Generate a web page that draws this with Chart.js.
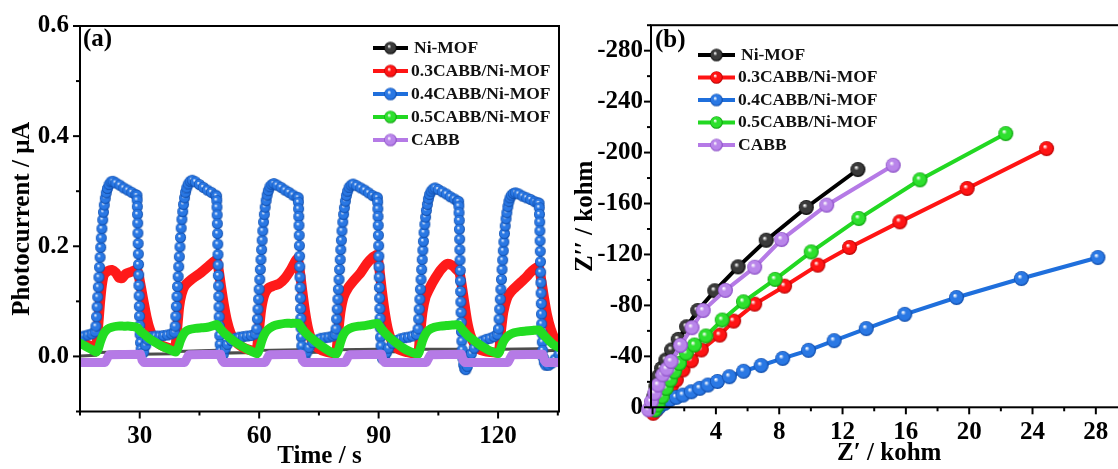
<!DOCTYPE html>
<html>
<head>
<meta charset="utf-8">
<title>Photocurrent and EIS</title>
<script src="https://cdn.jsdelivr.net/npm/chart.js@4.4.1/dist/chart.umd.min.js"></script>
<style>
html, body { margin: 0; padding: 0; background: #fff; overflow: hidden; width: 1118px; height: 469px; }
canvas { position: absolute; top: 0; }
</style>
</head>
<body>
<canvas id="chartA" width="572" height="469" style="left:0"></canvas>
<canvas id="chartB" width="572" height="469" style="left:570px"></canvas>
<script>
// ---- (a) photocurrent, [time s, current uA] ----
var niMOF_a = [[15,0.001],[19,0.002],[19.6,0.007],[29.3,0.009],[30,0.004],[38.9,0.005],[39.5,0.009],[49.3,0.011],[50,0.006],
  [59.4,0.007],[60,0.011],[69.8,0.012],[70.5,0.007],[79.3,0.008],[80,0.012],[89.7,0.013],[90.4,0.008],[99.9,0.009],[100.5,0.013],
  [110.1,0.013],[110.8,0.009],[120.1,0.01],[120.7,0.013],[130.3,0.014],[131,0.01],[135.3,0.011]];

var cabb3_a = [[15,0.025],[16.5,0.022],[18,0.018],[19,0.018],[19.5,0.05],[20,0.095],[20.5,0.13],[21,0.148],[22,0.155],[23,0.157],
  [24,0.152],[24.8,0.143],[25.6,0.142],[26.5,0.15],[28,0.154],[29.3,0.158],[29.8,0.145],[30.4,0.122],[31,0.098],[31.7,0.072],
  [32.5,0.05],[33.5,0.033],[35,0.022],[37,0.016],[38.8,0.014],
  [39.4,0.05],[39.9,0.09],[40.5,0.113],[41.3,0.128],[43,0.14],[45,0.15],[47,0.162],[49.2,0.175],[49.8,0.158],[50.4,0.128],
  [51.1,0.095],[51.9,0.065],[52.8,0.043],[54,0.027],[56,0.016],[58,0.011],[59.3,0.01],
  [59.9,0.045],[60.5,0.085],[61.3,0.112],[62.3,0.124],[63.5,0.128],[65,0.132],[66.5,0.142],[68,0.158],[69.6,0.178],[70.2,0.155],
  [70.8,0.12],[71.5,0.082],[72.3,0.05],[73.3,0.028],[74.8,0.015],[77,0.008],[79.2,0.006],
  [79.8,0.04],[80.4,0.08],[81.2,0.108],[82.3,0.124],[83.8,0.138],[85.5,0.152],[87,0.168],[88.5,0.18],[89.6,0.184],[90.2,0.158],
  [90.8,0.12],[91.5,0.082],[92.3,0.05],[93.3,0.028],[94.8,0.014],[97,0.008],[99.8,0.006],
  [100.4,0.04],[101,0.08],[101.8,0.108],[102.8,0.124],[104.2,0.142],[105.7,0.158],[107.2,0.168],[108.5,0.165],[109.5,0.158],
  [110.3,0.152],[110.9,0.128],[111.5,0.098],[112.2,0.065],[113,0.04],[114,0.023],[115.5,0.012],[118,0.008],[120.1,0.008],
  [120.7,0.045],[121.3,0.08],[122.2,0.105],[123.3,0.118],[125,0.13],[126.8,0.142],[128.5,0.155],[130.2,0.163],[130.8,0.14],
  [131.5,0.108],[132.3,0.075],[133.2,0.05],[134.2,0.032],[135.3,0.022]];

var cabb4_a = [[15,0.035],[16,0.037],[17,0.039],[18,0.041],[18.8,0.045],
  [19,0.055],[19.15,0.072],[19.3,0.09],[19.45,0.108],[19.6,0.126],[19.75,0.144],[19.9,0.162],[20.05,0.18],[20.2,0.198],[20.35,0.215],
  [20.5,0.232],[20.7,0.248],[20.9,0.262],[21.1,0.275],[21.35,0.287],[21.6,0.297],[21.9,0.305],[22.3,0.312],[22.8,0.317],[23.3,0.318],
  [24,0.315],[25,0.311],[26,0.306],[27,0.302],[28,0.298],[29,0.294],[29.3,0.292],
  [29.35,0.284],[29.4,0.272],[29.45,0.258],[29.5,0.242],[29.55,0.224],[29.6,0.205],[29.65,0.186],[29.7,0.167],[29.75,0.148],
  [29.8,0.129],[29.85,0.11],[29.9,0.091],[29.95,0.073],[30,0.056],[30.1,0.04],[30.2,0.025],[30.35,0.013],[30.6,0.005],
  [31,0.008],[31.5,0.02],[32,0.03],[33,0.036],[34,0.037],[35,0.037],[36,0.038],[37,0.039],[38,0.041],[38.7,0.044],
  [38.9,0.055],[39.05,0.073],[39.2,0.091],[39.35,0.109],[39.5,0.127],[39.65,0.145],[39.8,0.163],[39.95,0.181],[40.1,0.199],
  [40.25,0.216],[40.4,0.233],[40.6,0.249],[40.8,0.263],[41,0.276],[41.25,0.288],[41.5,0.298],[41.8,0.306],[42.2,0.313],[42.7,0.318],[43.2,0.32],
  [44,0.317],[45,0.312],[46,0.307],[47,0.302],[48,0.298],[49,0.293],[49.3,0.291],
  [49.35,0.283],[49.4,0.271],[49.45,0.257],[49.5,0.241],[49.55,0.223],[49.6,0.204],[49.65,0.185],[49.7,0.166],[49.75,0.147],
  [49.8,0.128],[49.85,0.109],[49.9,0.09],[49.95,0.072],[50,0.055],[50.1,0.038],[50.2,0.022],[50.35,0.01],[50.6,0.001],
  [51,0.004],[51.5,0.014],[52,0.022],[53,0.029],[54,0.033],[55,0.035],[56,0.036],[57,0.037],[58,0.038],[59,0.041],
  [59.4,0.05],[59.55,0.068],[59.7,0.086],[59.85,0.104],[60,0.122],[60.15,0.14],[60.3,0.158],[60.45,0.176],[60.6,0.194],
  [60.75,0.211],[60.9,0.228],[61.1,0.244],[61.3,0.258],[61.5,0.271],[61.75,0.283],[62,0.293],[62.3,0.301],[62.7,0.308],[63.2,0.312],[63.7,0.314],
  [64.5,0.311],[65.5,0.307],[66.5,0.302],[67.5,0.298],[68.5,0.293],[69.5,0.289],[69.8,0.288],
  [69.85,0.28],[69.9,0.268],[69.95,0.254],[70,0.238],[70.05,0.22],[70.1,0.201],[70.15,0.182],[70.2,0.163],[70.25,0.144],
  [70.3,0.125],[70.35,0.106],[70.4,0.087],[70.45,0.069],[70.5,0.052],[70.6,0.035],[70.7,0.019],[70.85,0.006],[71.1,-0.004],
  [71.5,-0.001],[72,0.008],[72.5,0.016],[73.5,0.025],[74.5,0.03],[75.5,0.033],[76.5,0.034],[77.5,0.035],[78.5,0.037],[79.1,0.04],
  [79.3,0.05],[79.45,0.068],[79.6,0.086],[79.75,0.104],[79.9,0.122],[80.05,0.14],[80.2,0.158],[80.35,0.176],[80.5,0.194],
  [80.65,0.211],[80.8,0.228],[81,0.244],[81.2,0.258],[81.4,0.27],[81.65,0.282],[81.9,0.292],[82.2,0.3],[82.6,0.307],[83.1,0.311],[83.6,0.313],
  [84.5,0.31],[85.5,0.306],[86.5,0.302],[87.5,0.297],[88.5,0.292],[89.4,0.289],[89.7,0.288],
  [89.75,0.28],[89.8,0.268],[89.85,0.254],[89.9,0.238],[89.95,0.22],[90,0.201],[90.05,0.182],[90.1,0.163],[90.15,0.144],
  [90.2,0.125],[90.25,0.106],[90.3,0.087],[90.35,0.069],[90.4,0.052],[90.5,0.035],[90.6,0.019],[90.75,0.006],[91,-0.004],
  [91.5,-0.002],[92,0.007],[92.5,0.015],[93.5,0.024],[94.5,0.029],[95.5,0.032],[96.5,0.034],[97.5,0.035],[98.5,0.037],[99.5,0.04],
  [99.9,0.05],[100.05,0.068],[100.2,0.086],[100.35,0.104],[100.5,0.122],[100.65,0.14],[100.8,0.158],[100.95,0.176],[101.1,0.193],
  [101.25,0.209],[101.4,0.225],[101.6,0.24],[101.8,0.253],[102,0.265],[102.25,0.276],[102.5,0.286],[102.8,0.294],[103.2,0.3],[103.7,0.304],[104.2,0.306],
  [105,0.303],[106,0.299],[107,0.295],[108,0.29],[109,0.286],[109.8,0.282],[110.1,0.281],
  [110.15,0.273],[110.2,0.261],[110.25,0.247],[110.3,0.231],[110.35,0.213],[110.4,0.194],[110.45,0.175],[110.5,0.156],[110.55,0.137],
  [110.6,0.118],[110.65,0.099],[110.7,0.08],[110.75,0.062],[110.8,0.045],[110.9,0.028],[111,0.012],[111.15,-0.003],[111.35,-0.015],
  [111.6,-0.022],[111.9,-0.024],
  [112.3,-0.018],[112.8,-0.006],[113.3,0.005],[114,0.015],[115,0.023],[116,0.028],[117,0.031],[118,0.033],[119,0.036],[119.8,0.04],
  [120.1,0.05],[120.25,0.068],[120.4,0.086],[120.55,0.104],[120.7,0.122],[120.85,0.14],[121,0.158],[121.15,0.175],[121.3,0.192],
  [121.45,0.208],[121.6,0.223],[121.8,0.237],[122,0.25],[122.2,0.261],[122.45,0.272],[122.7,0.281],[123,0.288],[123.4,0.293],[123.9,0.296],[124.4,0.297],
  [125.2,0.295],[126.2,0.291],[127.2,0.288],[128.2,0.285],[129.2,0.281],[130,0.279],[130.3,0.278],
  [130.35,0.27],[130.4,0.258],[130.45,0.244],[130.5,0.228],[130.55,0.21],[130.6,0.191],[130.65,0.172],[130.7,0.153],[130.75,0.134],
  [130.8,0.115],[130.85,0.096],[130.9,0.077],[130.95,0.059],[131,0.042],[131.1,0.026],[131.2,0.011],[131.35,-0.002],[131.6,-0.011],[132,-0.016],
  [132.7,-0.016],[133.5,-0.012],[134.3,-0.005],[135.3,0.004]];

var cabb5_a = [[15,0.024],[16,0.02],[17,0.016],[18,0.012],[19.1,0.008],[19.6,0.014],[20.1,0.026],[20.6,0.036],[21.2,0.044],[22,0.05],
  [23,0.053],[24.5,0.055],[26,0.055],[27.5,0.055],[28.5,0.054],[29.4,0.052],[30.3,0.045],[31.2,0.04],[32.5,0.032],[34,0.025],
  [35.5,0.019],[37,0.014],[38.3,0.01],[39.1,0.008],
  [39.6,0.015],[40.2,0.028],[40.8,0.038],[41.5,0.045],[42.5,0.049],[44,0.051],[45.5,0.052],[47,0.053],[48.5,0.056],[49.4,0.058],
  [50.3,0.05],[51.3,0.042],[52.6,0.034],[54,0.026],[55.5,0.019],[57,0.013],[58.5,0.008],[59.5,0.005],
  [60,0.012],[60.6,0.027],[61.3,0.04],[62.2,0.049],[63.5,0.055],[65,0.058],[66.5,0.06],[68,0.06],[69.8,0.06],[70.8,0.05],
  [71.8,0.042],[73,0.034],[74.5,0.025],[76,0.017],[77.5,0.01],[79.3,0.004],
  [79.9,0.012],[80.5,0.027],[81.2,0.04],[82.1,0.048],[83.5,0.053],[85,0.055],[86.5,0.056],[88,0.058],[89.7,0.06],[90.7,0.05],
  [91.7,0.042],[93,0.033],[94.5,0.024],[96,0.016],[97.5,0.01],[99.9,0.004],
  [100.4,0.013],[101,0.028],[101.7,0.04],[102.6,0.048],[104,0.053],[105.5,0.055],[107,0.056],[108.5,0.057],[110.1,0.057],
  [111.1,0.048],[112.1,0.04],[113.4,0.032],[115,0.023],[116.5,0.016],[118,0.01],[120.1,0.005],
  [120.6,0.013],[121.2,0.025],[121.9,0.033],[122.8,0.039],[124,0.043],[125.5,0.045],[127,0.046],[128.5,0.047],[130.3,0.048],
  [131.3,0.04],[132.5,0.031],[133.8,0.022],[135.3,0.016]];

var cabb_a = [[15,-0.011],[21.3,-0.011],[21.8,-0.004],[22.3,0.003],[30.2,0.004],[30.6,-0.007],[31,-0.011],
  [41.3,-0.011],[41.8,-0.004],[42.3,0.003],[50.3,0.004],[50.7,-0.007],[51.1,-0.011],
  [61.5,-0.011],[62,-0.004],[62.5,0.003],[70.5,0.004],[70.9,-0.007],[71.3,-0.011],
  [81.6,-0.011],[82.1,-0.004],[82.6,0.003],[90.7,0.004],[91.1,-0.007],[91.5,-0.011],
  [102,-0.011],[102.5,-0.004],[103,0.003],[110.8,0.004],[111.2,-0.007],[111.6,-0.011],
  [122.5,-0.011],[123,-0.004],[123.5,0.003],[131.2,0.004],[131.6,-0.007],[132,-0.011],[135.3,-0.011]];

// ---- (b) Nyquist, Z' and Z'' in kohm ----
var niMOF_re = [0, 0.08, 0.21, 0.36, 0.57, 0.84, 1.2, 1.62, 2.15, 2.85, 3.93, 5.4, 7.18, 9.71, 12.97];
var niMOF_im = [-0.5, -8.3, -16.2, -24, -30.5, -37.1, -45, -53.3, -63.2, -76, -91.5, -110.3, -131.2, -156.9, -186.7];
var cabb3_re = [0.04, 0.25, 0.55, 0.86, 1.18, 1.5, 1.92, 2.45, 3.08, 4.24, 5.12, 6.45, 8.34, 10.44, 12.44, 15.62, 19.87, 24.89];
var cabb3_im = [4.7, 2, -3.1, -9.6, -16.2, -21.4, -29.3, -36.5, -45, -56.7, -67.7, -81, -95.1, -111.6, -125.5, -145.6, -171.8, -203.1];
var cabb4_re = [0.23, 0.44, 0.76, 1.07, 1.5, 1.92, 2.45, 2.98, 3.5, 4.1, 4.85, 5.75, 6.86, 8.22, 9.85, 11.47, 13.5, 15.93, 19.2, 23.3, 28.13];
var cabb4_im = [2, -0.5, -3.1, -5.7, -7.8, -9.6, -12.2, -14.9, -17.5, -20.3, -24, -28.3, -32.8, -38.4, -44.7, -52.3, -61.8, -73, -86.2, -101.1, -117.6];
var cabb5_re = [0.14, 0.34, 0.61, 0.86, 1.12, 1.39, 1.7, 2.13, 2.65, 3.37, 4.4, 5.74, 7.74, 10.02, 13.03, 16.89, 22.31];
var cabb5_im = [2, -1.8, -8.3, -14.9, -21.4, -27.9, -34.5, -42.4, -48.9, -56, -68.5, -82.8, -100.4, -122, -148.2, -178.6, -214.9];
var cabb_re = [-0.25, -0.07, 0.14, 0.35, 0.65, 0.9, 1.17, 1.77, 2.49, 3.2, 4.6, 6.45, 8.15, 11, 15.2];
var cabb_im = [2, -4.4, -11, -17.5, -25.5, -30, -36, -48.6, -62.5, -76, -91.8, -110, -131.7, -158.7, -190];

var names = ['Ni-MOF', '0.3CABB/Ni-MOF', '0.4CABB/Ni-MOF', '0.5CABB/Ni-MOF', 'CABB'];
var colors = ['#000000', '#ff1414', '#1f6fdc', '#22d822', '#b57ae6'];
var darks = ['#000000', '#b00000', '#0b46a3', '#0a9a0a', '#8446c0'];
var mids = ['#3a3a3a', '#ff1414', '#2a78e4', '#2ee02e', '#b985ea'];

var SERIF = '"Liberation Serif", "Times New Roman", "DejaVu Serif", serif';
Chart.defaults.font.family = SERIF;
Chart.defaults.font.weight = 'bold';
Chart.defaults.color = '#000';

function sphere(i, r) {
    var c = document.createElement('canvas');
    var s = Math.ceil(r * 2 + 2);
    c.width = s; c.height = s;
    var g = c.getContext('2d');
    var m = s / 2;
    var grad = g.createRadialGradient(m - r * 0.25, m - r * 0.3, r * 0.05, m, m, r);
    grad.addColorStop(0, '#ffffff');
    grad.addColorStop(0.3, mids[i]);
    grad.addColorStop(0.75, mids[i]);
    grad.addColorStop(1, darks[i]);
    g.fillStyle = grad;
    g.beginPath(); g.arc(m, m, r, 0, Math.PI * 2); g.fill();
    return c;
}

function pairs(arr) { return arr.map(function (p) { return {x: p[0], y: p[1]}; }); }
function zip(re, im) { return re.map(function (v, i) { return {x: v, y: im[i]}; }); }

function drawTicks(ctx, s, major, minor, a, horiz) {
    var lo = Math.min(s.min, s.max), hi = Math.max(s.min, s.max);
    var n0 = Math.ceil(lo / minor - 1e-9), n1 = Math.floor(hi / minor + 1e-9);
    for (var n = n0; n <= n1; n++) {
        var v = n * minor;
        var isMajor = Math.abs(v / major - Math.round(v / major)) < 1e-6;
        var len = isMajor ? 7 : 4;
        var p = s.getPixelForValue(v);
        ctx.beginPath();
        if (horiz) { ctx.moveTo(p, a.bottom); ctx.lineTo(p, a.bottom + len); }
        else { ctx.moveTo(a.left, p); ctx.lineTo(a.left - len, p); }
        ctx.stroke();
    }
}

// frame, tick marks, panel letter and legend
var panelPlugin = {
    id: 'panel',
    afterDatasetsDraw: function (chart, args, o) {
        var ctx = chart.ctx, a = chart.chartArea;
        ctx.save();
        ctx.strokeStyle = '#000';
        ctx.lineWidth = 2;
        ctx.strokeRect(a.left, a.top, a.right - a.left, a.bottom - a.top);
        drawTicks(ctx, chart.scales.x, o.xMajor, o.xMinor, a, true);
        drawTicks(ctx, chart.scales.y, o.yMajor, o.yMinor, a, false);

        ctx.fillStyle = '#000';
        ctx.font = 'bold 25px ' + SERIF;
        ctx.textBaseline = 'alphabetic';
        ctx.fillText(o.letter, o.letterX, o.letterY);

        ctx.font = 'bold 17.5px ' + SERIF;
        ctx.textBaseline = 'middle';
        for (var i = 0; i < names.length; i++) {
            var y = o.legY + i * o.legDy;
            ctx.strokeStyle = colors[i];
            ctx.lineWidth = 4;
            ctx.beginPath();
            ctx.moveTo(o.legX, y); ctx.lineTo(o.legX + o.legLen, y);
            ctx.stroke();
            var b = o.balls[i];
            ctx.drawImage(b, o.legX + o.legLen / 2 - b.width / 2, y - b.height / 2);
            ctx.fillStyle = '#111';
            ctx.fillText(names[i], o.legX + o.legLen + 3 + (i === 0 ? 3 : 0), y);
        }
        ctx.restore();
    }
};

var legBalls = [0, 1, 2, 3, 4].map(function (i) { return sphere(i, 6.3); });

// ---------- chart (a) ----------
new Chart(document.getElementById('chartA'), {
    type: 'line',
    data: {
        datasets: [
            {label: names[0], data: pairs(niMOF_a), borderColor: '#4d4d4d', borderWidth: 3, pointRadius: 0, order: 4},
            {label: names[1], data: pairs(cabb3_a), borderColor: '#ff1a1a', borderWidth: 10, pointRadius: 0,
                tension: 0.2, borderJoinStyle: 'round', borderCapStyle: 'round', order: 3},
            {label: names[2], data: pairs(cabb4_a), borderColor: '#1f6fdc', borderWidth: 3, pointRadius: 5.5,
                pointStyle: sphere(2, 5.5), order: 2},
            {label: names[3], data: pairs(cabb5_a), borderColor: '#22dd22', borderWidth: 9, pointRadius: 0,
                tension: 0.2, borderJoinStyle: 'round', borderCapStyle: 'round', order: 1},
            {label: names[4], data: pairs(cabb_a), borderColor: '#b57ae6', borderWidth: 9, pointRadius: 0,
                borderJoinStyle: 'round', borderCapStyle: 'round', order: 0}
        ]
    },
    options: {
        responsive: false,
        animation: false,
        events: [],
        layout: {padding: {left: 0, right: 13, top: 24.5, bottom: 0}},
        plugins: {
            legend: {display: false},
            tooltip: {enabled: false},
            panel: {xMajor: 30, xMinor: 15, yMajor: 0.2, yMinor: 0.1, letter: '(a)', letterX: 83, letterY: 46,
                legX: 373, legLen: 35, legY: 48, legDy: 23, balls: legBalls}
        },
        scales: {
            x: {
                type: 'linear', min: 15, max: 135.3,
                grid: {display: false, drawTicks: false}, border: {display: false},
                ticks: {stepSize: 15, autoSkip: false, maxRotation: 0, padding: 10.5, font: {size: 25},
                    callback: function (v) { return Math.abs(v % 30) < 1e-6 ? String(v) : ''; }},
                title: {display: true, text: 'Time / s', font: {size: 25, lineHeight: 1}, padding: {top: 0, bottom: 0}},
                afterFit: function (s) { s.height = 57.5; }
            },
            y: {
                type: 'linear', min: -0.1, max: 0.6,
                grid: {display: false, drawTicks: false}, border: {display: false},
                ticks: {stepSize: 0.1, autoSkip: false, padding: 11, font: {size: 25},
                    callback: function (v) {
                        var k = Math.round(v * 10);
                        return (k % 2 === 0 && k >= 0) ? (k / 10).toFixed(1) : '';
                    }},
                title: {display: true, text: 'Photocurrent / μA', font: {size: 25, lineHeight: 1}, padding: {top: 10, bottom: 0}},
                afterFit: function (s) { s.width = 80; }
            }
        }
    },
    plugins: [panelPlugin]
});

// ---------- chart (b) ----------
function nyq(i, re, im) {
    return {label: names[i], data: zip(re, im), borderColor: colors[i], borderWidth: 4, pointRadius: 7.5,
        pointStyle: sphere(i, 7.5), clip: false, order: 4 - i};
}

new Chart(document.getElementById('chartB'), {
    type: 'line',
    data: {
        datasets: [
            nyq(0, niMOF_re, niMOF_im),
            nyq(1, cabb3_re, cabb3_im),
            nyq(2, cabb4_re, cabb4_im),
            nyq(3, cabb5_re, cabb5_im),
            nyq(4, cabb_re, cabb_im)
        ]
    },
    options: {
        responsive: false,
        animation: false,
        events: [],
        layout: {padding: {left: 0, right: 14.5, top: 25.2, bottom: 0}},
        plugins: {
            legend: {display: false},
            tooltip: {enabled: false},
            panel: {xMajor: 4, xMinor: 2, yMajor: 40, yMinor: 20, letter: '(b)', letterX: 85, letterY: 47,
                legX: 128, legLen: 37, legY: 55, legDy: 22.5, balls: legBalls}
        },
        scales: {
            x: {
                type: 'linear', min: -0.1, max: 30,
                grid: {display: false, drawTicks: false}, border: {display: false},
                ticks: {stepSize: 2, autoSkip: false, maxRotation: 0, padding: 10, font: {size: 25},
                    callback: function (v) {
                        var k = Math.round(v);
                        if (Math.abs(v - k) > 1e-6) return '';
                        return k % 4 === 0 ? String(k) : '';
                    }},
                title: {display: true, text: 'Z′ / kohm', font: {size: 25, lineHeight: 1}, padding: {top: 0, bottom: 3}},
                afterFit: function (s) { s.height = 61.7; }
            },
            y: {
                type: 'linear', min: -300, max: 0, reverse: true,
                grid: {display: false, drawTicks: false}, border: {display: false},
                ticks: {stepSize: 20, autoSkip: false, padding: 8, font: {size: 25},
                    callback: function (v) {
                        var k = Math.round(v);
                        return k % 40 === 0 ? String(k) : '';
                    }},
                title: {display: true, text: 'Z′′ / kohm', font: {size: 25, lineHeight: 1}, padding: {top: 3.5, bottom: 0}},
                afterFit: function (s) { s.width = 81; }
            }
        }
    },
    plugins: [panelPlugin]
});
</script>
</body>
</html>
